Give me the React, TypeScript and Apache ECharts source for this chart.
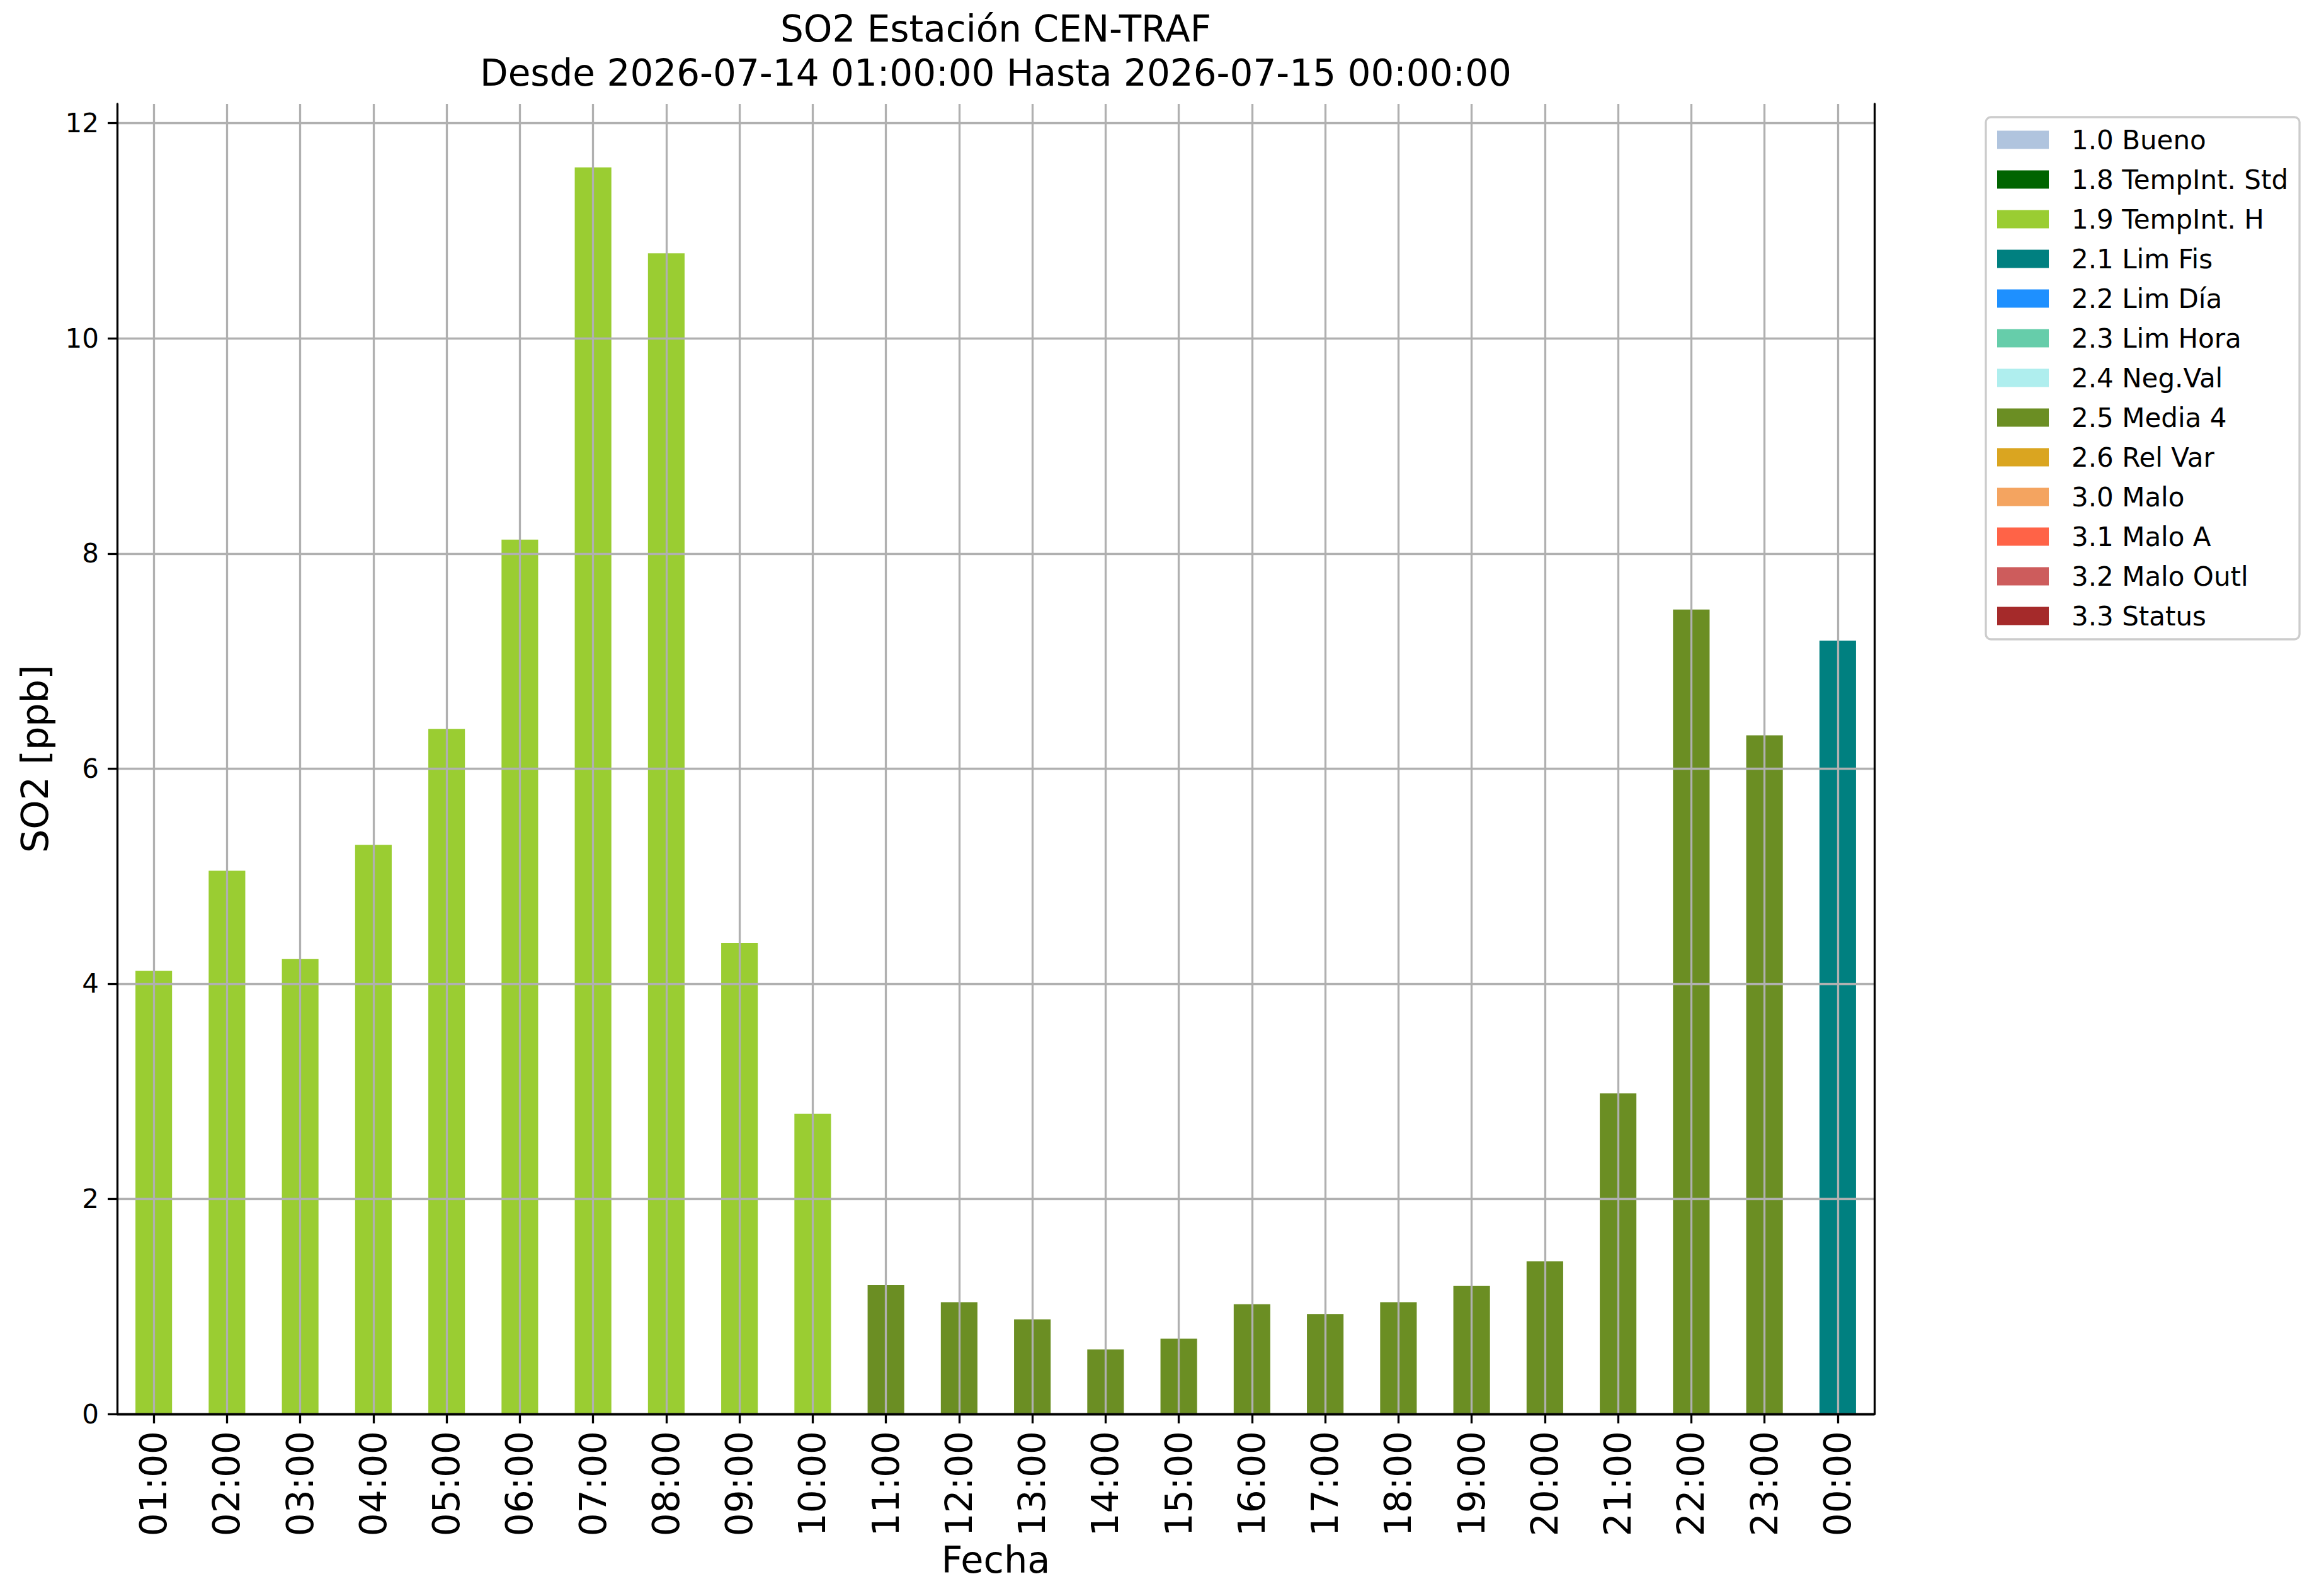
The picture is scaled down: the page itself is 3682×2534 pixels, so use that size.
import React, { useEffect, useRef } from "react";
import * as echarts from "echarts";

const hours = [
  "01:00", "02:00", "03:00", "04:00", "05:00", "06:00", "07:00", "08:00",
  "09:00", "10:00", "11:00", "12:00", "13:00", "14:00", "15:00", "16:00",
  "17:00", "18:00", "19:00", "20:00", "21:00", "22:00", "23:00", "00:00",
];

const so2Values = [
  4.12, 5.05, 4.23, 5.29, 6.37, 8.13, 11.59, 10.79, 4.38, 2.79, 1.2, 1.04,
  0.88, 0.6, 0.7, 1.02, 0.93, 1.04, 1.19, 1.42, 2.98, 7.48, 6.31, 7.19,
];

const valueFlags = [
  "1.9", "1.9", "1.9", "1.9", "1.9", "1.9", "1.9", "1.9", "1.9", "1.9",
  "2.5", "2.5", "2.5", "2.5", "2.5", "2.5", "2.5", "2.5", "2.5", "2.5",
  "2.5", "2.5", "2.5", "2.1",
];

const flagKeys = ["1.0", "1.8", "1.9", "2.1", "2.2", "2.3", "2.4", "2.5", "2.6", "3.0", "3.1", "3.2", "3.3"];
const flagNames = [
  "1.0 Bueno", "1.8 TempInt. Std", "1.9 TempInt. H", "2.1 Lim Fis", "2.2 Lim Día",
  "2.3 Lim Hora", "2.4 Neg.Val", "2.5 Media 4", "2.6 Rel Var", "3.0 Malo",
  "3.1 Malo A", "3.2 Malo Outl", "3.3 Status",
];
const flagColors = [
  "#B0C4DE", "#006400", "#9ACD32", "#008080", "#1E90FF", "#66CDAA", "#AFEEEE",
  "#6B8E23", "#DAA520", "#F4A460", "#FF6347", "#CD5C5C", "#A52A2A",
];

const yTicks = [0, 2, 4, 6, 8, 10, 12];
const yMax = 12.18;

const titleLines = [
  "SO2 Estación CEN-TRAF",
  "Desde 2026-07-14 01:00:00 Hasta 2026-07-15 00:00:00",
];
const xAxisTitle = "Fecha";
const yAxisTitle = "SO2 [ppb]";

const FONT = '"DejaVu Sans", sans-serif';
const LW = 3.3;
const GRID_COLOR = "#b0b0b0";

export default function App() {
  const ref = useRef<HTMLDivElement>(null);

  useEffect(() => {
    if (!ref.current) return;
    const chart = echarts.init(ref.current, undefined, { renderer: "svg" });

    const series = flagKeys.map((key, k) => {
      const s: any = {
        type: "bar",
        name: flagNames[k],
        stack: "total",
        barWidth: "50%",
        itemStyle: { color: flagColors[k] },
        data: so2Values.map((v, i) => (valueFlags[i] === key ? v : "-")),
        z: 2,
        emphasis: { disabled: true },
      };
      if (k === 0) {
        s.markLine = {
          silent: true,
          symbol: ["none", "none"],
          label: { show: false },
          emphasis: { disabled: true },
          lineStyle: { color: GRID_COLOR, width: LW, type: "solid" },
          data: hours.map((h) => ({ xAxis: h })),
          z: 5,
        };
      }
      return s;
    });

    const option: any = {
      animation: false,
      backgroundColor: "#ffffff",
      textStyle: { fontFamily: FONT },
      grid: { left: 186, top: 165, width: 2790, height: 2080, containLabel: false },
      legend: {
        orient: "vertical",
        left: 3153,
        top: 186,
        data: flagNames,
        icon: "rect",
        itemWidth: 82,
        itemHeight: 29,
        itemGap: 21,
        padding: [15, 18, 16, 18],
        backgroundColor: "#ffffff",
        borderColor: "#cccccc",
        borderWidth: LW,
        borderRadius: 8,
        selectedMode: false,
        textStyle: {
          fontSize: 42,
          fontFamily: FONT,
          color: "#000",
          padding: [0, 0, 0, 31],
        },
      },
      xAxis: [
        {
          type: "category",
          data: hours,
          position: "bottom",
          z: 12,
          axisLine: { show: true, onZero: false, lineStyle: { color: "#000", width: LW } },
          axisTick: { show: true, alignWithLabel: true, length: 15, lineStyle: { color: "#000", width: LW } },
          axisLabel: { interval: 0, rotate: 90, margin: 27, fontSize: 58, fontFamily: FONT, color: "#000" },
          splitLine: { show: false },
          name: xAxisTitle,
          nameLocation: "middle",
          nameGap: 177,
          nameTextStyle: { fontSize: 59, fontFamily: FONT, color: "#000" },
        },
        {
          type: "category",
          data: hours,
          position: "top",
          z: 12,
          axisLine: { show: true, lineStyle: { color: "#000", width: LW } },
          axisTick: { show: false },
          axisLabel: { show: false },
          splitLine: { show: false },
        },
      ],
      yAxis: [
        {
          type: "value",
          min: 0,
          max: yMax,
          interval: 2,
          position: "left",
          z: 10,
          axisLine: { show: true, lineStyle: { color: "#000", width: LW } },
          axisTick: { show: true, length: 15, customValues: yTicks, lineStyle: { color: "#000", width: LW } },
          axisLabel: { fontSize: 42, margin: 29, customValues: yTicks, fontFamily: FONT, color: "#000" },
          splitLine: { show: true, lineStyle: { color: GRID_COLOR, width: LW } },
          name: yAxisTitle,
          nameLocation: "middle",
          nameGap: 101,
          nameTextStyle: { fontSize: 59, fontFamily: FONT, color: "#000" },
        },
        {
          type: "value",
          min: 0,
          max: yMax,
          position: "right",
          z: 12,
          axisLine: { show: true, lineStyle: { color: "#000", width: LW } },
          axisTick: { show: false },
          axisLabel: { show: false },
          splitLine: { show: false },
        },
      ],
      graphic: [
        {
          type: "text",
          x: 1581,
          y: 46,
          style: {
            text: titleLines[0],
            fontSize: 58,
            fontFamily: FONT,
            fill: "#000",
            align: "center",
            verticalAlign: "middle",
          },
        },
        {
          type: "text",
          x: 1581,
          y: 116,
          style: {
            text: titleLines[1],
            fontSize: 58,
            fontFamily: FONT,
            fill: "#000",
            align: "center",
            verticalAlign: "middle",
          },
        },
      ],
      series,
    };

    chart.setOption(option);
    return () => chart.dispose();
  }, []);

  return (
    <div
      ref={ref}
      style={{ position: "absolute", left: 0, top: 0, width: 3682, height: 2534 }}
    />
  );
}
